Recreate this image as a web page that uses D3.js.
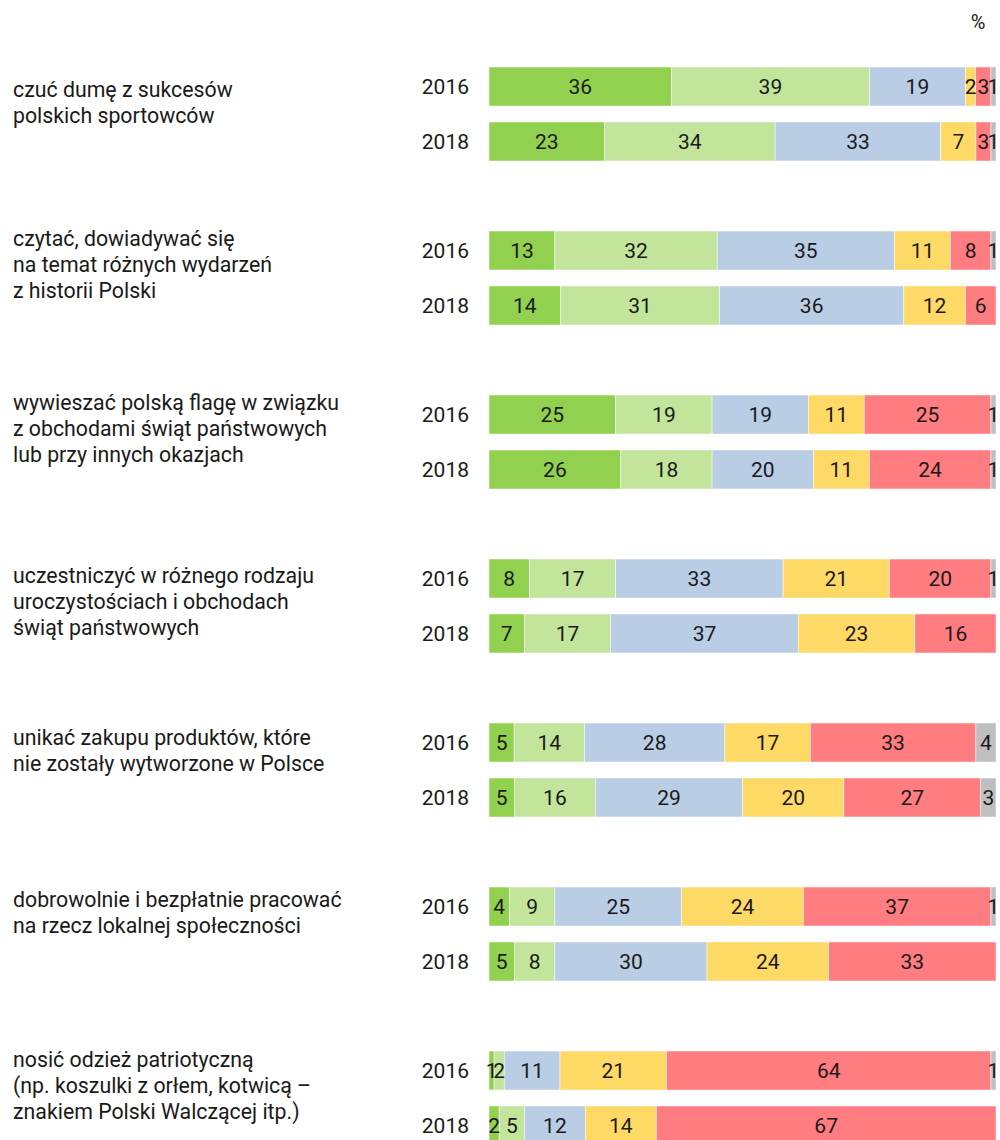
<!DOCTYPE html>
<html>
<head>
<meta charset="utf-8">
<script src="https://cdn.jsdelivr.net/npm/d3@7"></script>
<style>
  body { margin: 0; background: #fff; }
  svg { display: block; font-family: Roboto, sans-serif; }
</style>
</head>
<body>
<div id="chart"></div>
<script>
// categories (each label split into lines)
const categories = [
  ["czuć dumę z sukcesów", "polskich sportowców"],
  ["czytać, dowiadywać się", "na temat różnych wydarzeń", "z historii Polski"],
  ["wywieszać polską flagę w związku", "z obchodami świąt państwowych", "lub przy innych okazjach"],
  ["uczestniczyć w różnego rodzaju", "uroczystościach i obchodach", "świąt państwowych"],
  ["unikać zakupu produktów, które", "nie zostały wytworzone w Polsce"],
  ["dobrowolnie i bezpłatnie pracować", "na rzecz lokalnej społeczności"],
  ["nosić odzież patriotyczną", "(np. koszulki z orłem, kotwicą –", "znakiem Polski Walczącej itp.)"]
];
const years = ["2016", "2018"];

// series values, one array per year, segments in order
const values2016 = [
  [36, 39, 19, 2, 3, 1],
  [13, 32, 35, 11, 8, 1],
  [25, 19, 19, 11, 25, 1],
  [8, 17, 33, 21, 20, 1],
  [5, 14, 28, 17, 33, 4],
  [4, 9, 25, 24, 37, 1],
  [1, 2, 11, 21, 64, 1]
];
const values2018 = [
  [23, 34, 33, 7, 3, 1],
  [14, 31, 36, 12, 6, 0],
  [26, 18, 20, 11, 24, 1],
  [7, 17, 37, 23, 16, 0],
  [5, 16, 29, 20, 27, 3],
  [5, 8, 30, 24, 33, 0],
  [2, 5, 12, 14, 67, 0]
];
const segColors = ["#92d050", "#c3e49b", "#b9cde5", "#ffd966", "#ff7c80", "#bfbfbf"];

// layout
const width = 1000, height = 1140;
const barLeft = 489, barRight = 996;
const labelFont = 21.3, lineStep = 25.7;
// small vertical nudges of the left label blocks, as placed in the original
const labelNudge = [2, 0, 0, 9, -6, -8, 1];

const svg = d3.select("#chart").append("svg")
    .attr("width", width)
    .attr("height", height);

svg.append("text")
    .attr("x", 978)
    .attr("y", 29)
    .attr("text-anchor", "middle")
    .style("font-size", "20px")
    .attr("fill", "#1a1a1a")
    .text("%");

const yGroup = d3.scaleBand()
    .domain(d3.range(categories.length))
    .range([67, 67 + 164 * categories.length]);

const yYear = d3.scaleBand()
    .domain(years)
    .range([0, 94])
    .paddingInner(0.29);

const group = svg.selectAll("g.group")
  .data(categories)
  .join("g")
    .attr("class", "group")
    .attr("transform", (d, i) => `translate(0,${yGroup(i)})`);

// left category labels
group.append("text")
    .attr("x", 13)
    .attr("y", (d, i) => 41 + labelNudge[i] - (d.length - 1) * lineStep / 2)
    .style("font-size", labelFont + "px")
    .attr("fill", "#1a1a1a")
  .selectAll("tspan")
  .data(d => d)
  .join("tspan")
    .attr("x", 13)
    .attr("dy", (d, i) => i ? lineStep : 0)
    .text(d => d);

const rows = group.selectAll("g.row")
  .data((d, i) => years.map((yr, j) => ({year: yr, vals: j ? values2018[i] : values2016[i]})))
  .join("g")
    .attr("class", "row")
    .attr("transform", d => `translate(0,${yYear(d.year)})`);

rows.append("text")
    .attr("x", 469)
    .attr("y", yYear.bandwidth() / 2)
    .attr("dy", "0.36em")
    .attr("text-anchor", "end")
    .style("font-size", "21px")
    .attr("fill", "#1a1a1a")
    .text(d => d.year);

rows.each(function(d) {
  const total = d3.sum(d.vals);
  const x = d3.scaleLinear().domain([0, total]).range([barLeft, barRight]);
  let acc = 0;
  const segs = d.vals.map((v, k) => {
    const s = {v, k, x0: acc, x1: acc + v};
    acc += v;
    return s;
  }).filter(s => s.v > 0);

  const g = d3.select(this);
  g.selectAll("rect")
    .data(segs)
    .join("rect")
      .attr("x", s => x(s.x0))
      .attr("width", s => x(s.x1) - x(s.x0))
      .attr("height", yYear.bandwidth())
      .attr("fill", s => segColors[s.k])
      .attr("stroke", "#fff")
      .attr("stroke-width", 0.5);

  g.selectAll("text.val")
    .data(segs)
    .join("text")
      .attr("class", "val")
      .attr("x", s => (x(s.x0) + x(s.x1)) / 2)
      .attr("y", yYear.bandwidth() / 2)
      .attr("dy", "0.36em")
      .attr("text-anchor", "middle")
      .style("font-size", "21px")
      .attr("fill", "#1a1a1a")
      .text(s => s.v);
});
</script>
</body>
</html>
